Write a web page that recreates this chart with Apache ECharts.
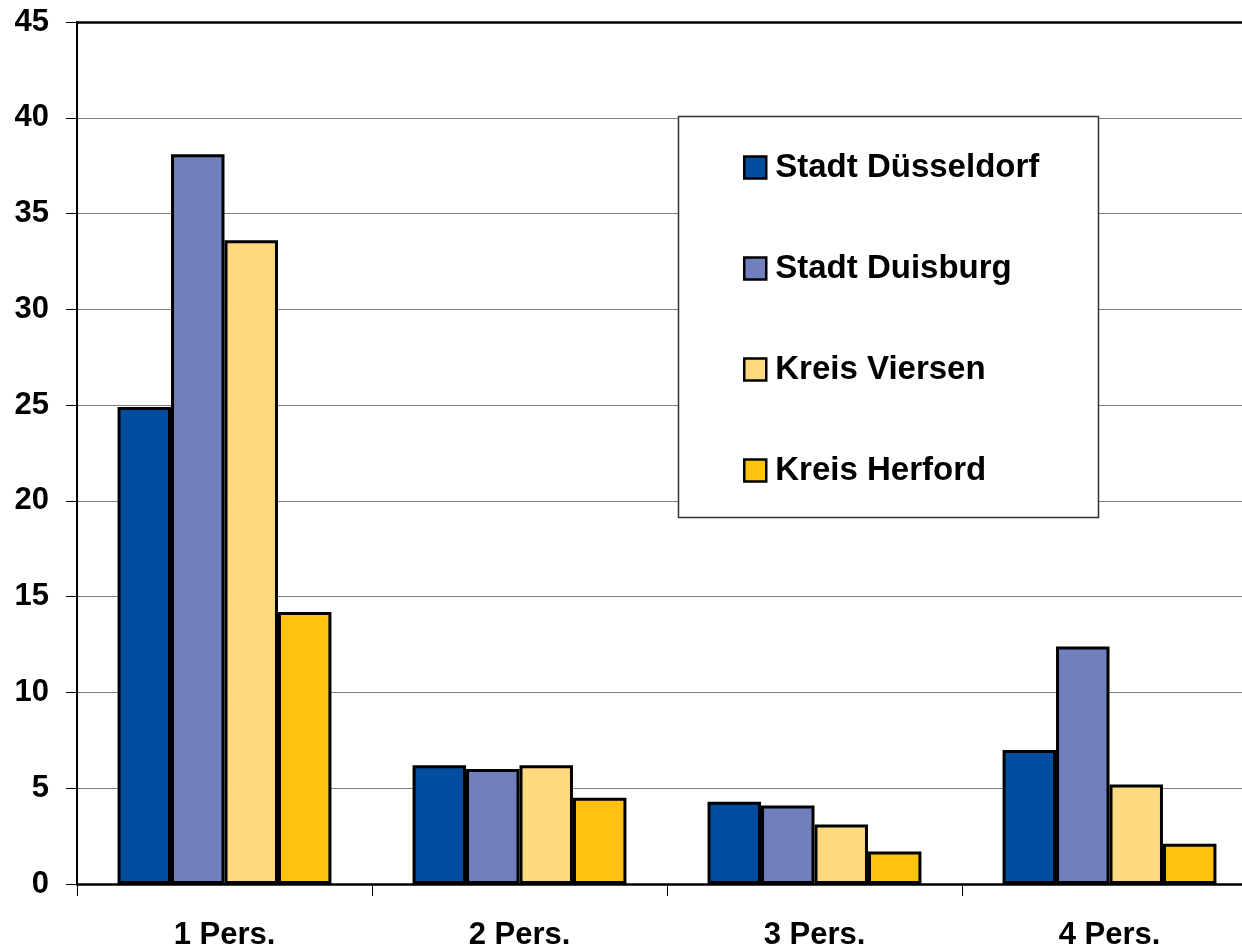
<!DOCTYPE html>
<html>
<head>
<meta charset="utf-8">
<title>Haushaltsgrößen</title>
<script src="https://cdn.jsdelivr.net/npm/echarts@6/dist/echarts.min.js"></script>
<style>
  html, body { margin: 0; padding: 0; background: #fff; overflow: hidden; }
  #chart { width: 1260px; height: 951px; }
</style>
</head>
<body>
<div id="chart"></div>
<script>
// Household size categories
const categories = ['1 Pers.', '2 Pers.', '3 Pers.', '4 Pers.'];

// Share per region
const duesseldorf = [24.9, 6.2, 4.3, 7.0];
const duisburg = [38.1, 6.0, 4.1, 12.4];
const viersen = [33.6, 6.2, 3.1, 5.2];
const herford = [14.2, 4.5, 1.7, 2.1];

const seriesNames = ['Stadt Düsseldorf', 'Stadt Duisburg', 'Kreis Viersen', 'Kreis Herford'];
const seriesColors = ['#034DA1', '#7080BF', '#FFD97F', '#FFC20F'];
const seriesData = [duesseldorf, duisburg, viersen, herford];

const FONT = '"Liberation Sans", Arial, sans-serif';

const chart = echarts.init(document.getElementById('chart'), null, { renderer: 'canvas' });

const series = seriesNames.map((name, i) => ({
  name: name,
  type: 'bar',
  data: seriesData[i],
  barGap: '0%',
  barCategoryGap: '27.5%',
  itemStyle: {
    color: seriesColors[i],
    borderColor: '#000',
    borderWidth: 3
  },
  emphasis: { disabled: true }
}));

chart.setOption({
  animation: false,
  backgroundColor: '#fff',
  // plot area runs past the right edge of the visible window
  grid: { left: 77, top: 22, width: 1180, height: 862, containLabel: false },
  xAxis: [
    {
      type: 'category',
      data: categories,
      position: 'bottom',
      axisLine: { lineStyle: { color: '#000', width: 2.5 } },
      axisTick: { show: true, length: 12, lineStyle: { color: '#000', width: 1 } },
      axisLabel: {
        color: '#000',
        fontFamily: FONT,
        fontWeight: 'bold',
        fontSize: 31,
        margin: 36
      },
      splitLine: { show: false }
    },
    {
      type: 'category',
      data: categories,
      position: 'top',
      axisLine: { lineStyle: { color: '#000', width: 2.5 } },
      axisTick: { show: false },
      axisLabel: { show: false },
      splitLine: { show: false }
    }
  ],
  yAxis: {
    type: 'value',
    min: 0,
    max: 45,
    interval: 5,
    axisLine: { show: true, lineStyle: { color: '#000', width: 2 } },
    axisTick: { show: true, length: 11, lineStyle: { color: '#000', width: 1 } },
    axisLabel: {
      color: '#000',
      fontFamily: FONT,
      fontWeight: 'bold',
      fontSize: 31,
      margin: 28
    },
    splitLine: { show: true, lineStyle: { color: '#808080', width: 1 } }
  },
  graphic: [
    {
      type: 'rect',
      z: 3,
      shape: { x: 678.5, y: 116.5, width: 420, height: 401 },
      style: { fill: '#fff', stroke: '#333', lineWidth: 1.5 }
    }
  ],
  legend: {
    orient: 'vertical',
    left: 743,
    top: 151,
    padding: 0,
    z: 5,
    itemWidth: 22,
    itemHeight: 22,
    itemGap: 68,
    icon: 'rect',
    selectedMode: false,
    itemStyle: { borderColor: '#000', borderWidth: 2.5 },
    textStyle: {
      color: '#000',
      fontFamily: FONT,
      fontWeight: 'bold',
      fontSize: 33,
      lineHeight: 32,
      padding: [0, 0, 0, 4]
    },
    data: seriesNames
  },
  series: series
});
</script>
</body>
</html>
